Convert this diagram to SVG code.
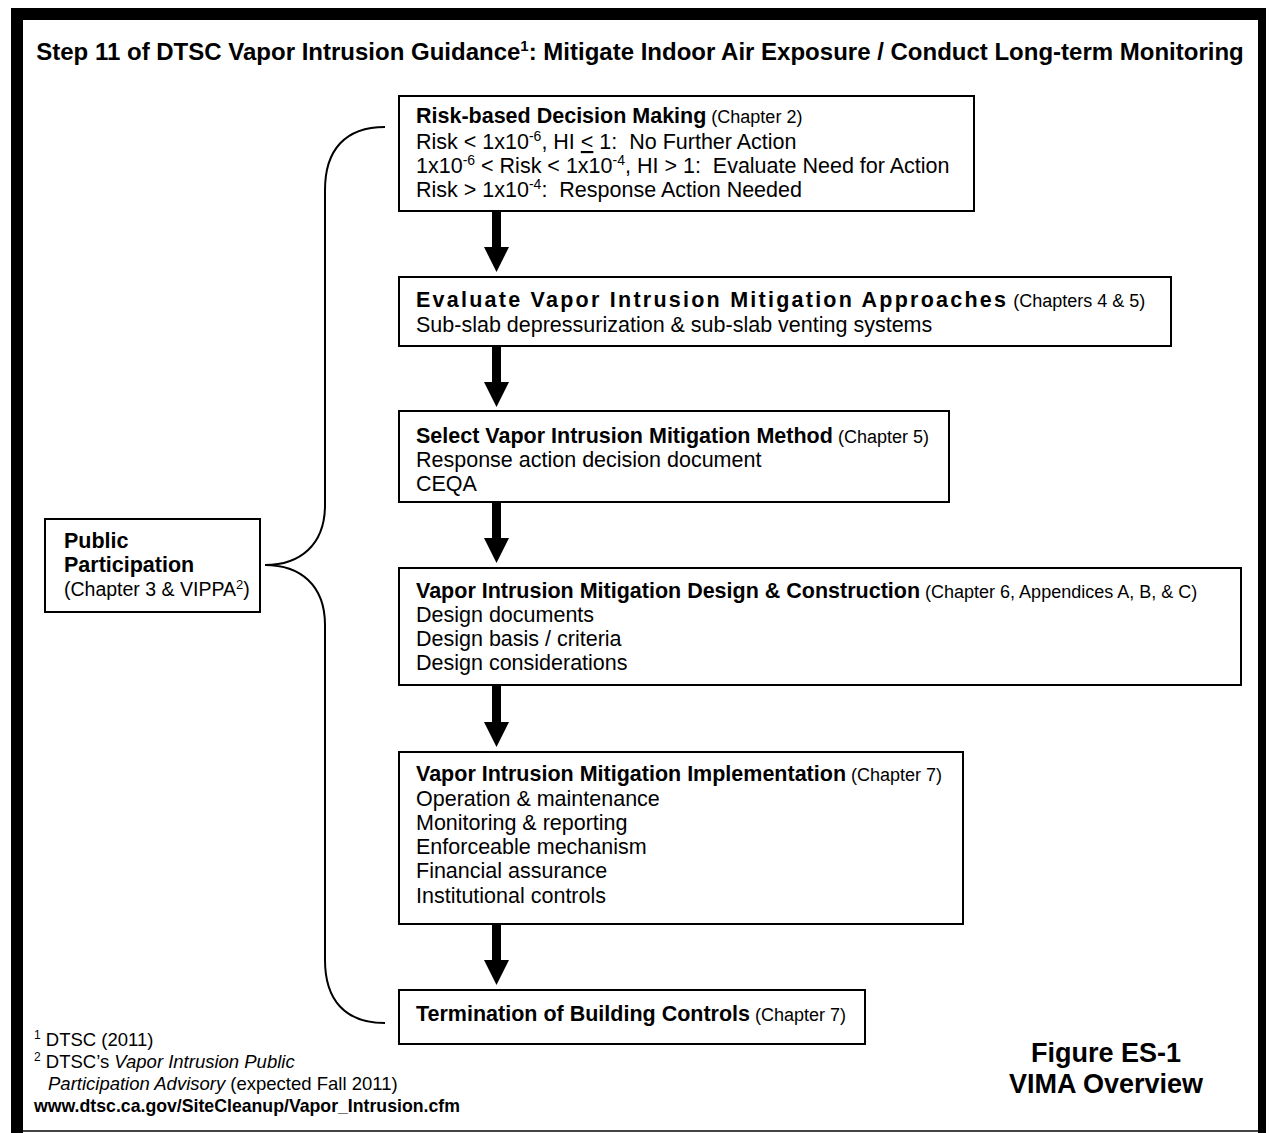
<svg xmlns="http://www.w3.org/2000/svg" width="1269" height="1133" viewBox="0 0 1269 1133">
<style>
.t{font-family:"Liberation Sans",Arial,sans-serif;fill:#000}
.b{font-weight:bold}
.box{fill:#fff;stroke:#000;stroke-width:2}
.h{font-size:21.5px;font-weight:bold}
.c{font-size:18px;font-weight:normal}
.n{font-size:21.5px}
.f{font-size:18.5px}
.arr{fill:#000}
</style>
<rect x="0" y="0" width="1269" height="1133" fill="#fff"/>
<g id="frame">
<rect x="11" y="8" width="12" height="1125" fill="#000"/>
<rect x="11" y="8" width="1255" height="12" fill="#000"/>
<rect x="1258" y="8" width="8" height="1125" fill="#000"/>
<rect x="23" y="1130" width="1235" height="2" fill="#444"/>
</g>
<text id="title" class="t b" x="640" y="60" font-size="24" text-anchor="middle">Step 11 of DTSC Vapor Intrusion Guidance<tspan font-size="15" dy="-9">1</tspan><tspan dy="9">: Mitigate Indoor Air Exposure / Conduct Long-term Monitoring</tspan></text>
<g id="connectors">
<path d="M385,127 C345,127 325,150 325,190 L325,505 C325,545 300,565 265,565 C300,565 325,585 325,625 L325,960 C325,1000 345,1023 385,1023" fill="none" stroke="#000" stroke-width="2"/>
<g class="arr">
<rect x="492" y="211" width="9" height="37"/><polygon points="484,247 509,247 496.5,272"/>
<rect x="492" y="346" width="9" height="37"/><polygon points="484,382 509,382 496.5,407"/>
<rect x="492" y="502" width="9" height="37"/><polygon points="484,538 509,538 496.5,563"/>
<rect x="492" y="685" width="9" height="38"/><polygon points="484,722 509,722 496.5,747"/>
<rect x="492" y="924" width="9" height="37"/><polygon points="484,960 509,960 496.5,985"/>
</g>
</g>
<g id="node-risk">
<rect class="box" x="399" y="96" width="575" height="115"/>
<text class="t" x="416" y="123"><tspan class="h">Risk-based Decision Making</tspan><tspan class="c"> (Chapter 2)</tspan></text>
<text class="t n" x="416" y="149">Risk &lt; 1x10<tspan font-size="14" dy="-8">-6</tspan><tspan dy="8">, HI </tspan><tspan text-decoration="underline">&lt;</tspan> 1:&#160; No Further Action</text>
<text class="t n" x="416" y="173">1x10<tspan font-size="14" dy="-8">-6</tspan><tspan dy="8"> &lt; Risk &lt; 1x10</tspan><tspan font-size="14" dy="-8">-4</tspan><tspan dy="8">, HI &gt; 1:&#160; Evaluate Need for Action</tspan></text>
<text class="t n" x="416" y="197">Risk &gt; 1x10<tspan font-size="14" dy="-8">-4</tspan><tspan dy="8">:&#160; Response Action Needed</tspan></text>
</g>
<g id="node-evaluate">
<rect class="box" x="399" y="277" width="772" height="69"/>
<text class="t" x="416" y="307"><tspan class="h" textLength="590">Evaluate Vapor Intrusion Mitigation Approaches</tspan><tspan class="c"> (Chapters 4 &amp; 5)</tspan></text>
<text class="t n" x="416" y="332">Sub-slab depressurization &amp; sub-slab venting systems</text>
</g>
<g id="node-select">
<rect class="box" x="399" y="411" width="550" height="91"/>
<text class="t" x="416" y="443"><tspan class="h">Select Vapor Intrusion Mitigation Method</tspan><tspan class="c"> (Chapter 5)</tspan></text>
<text class="t n" x="416" y="467">Response action decision document</text>
<text class="t n" x="416" y="491">CEQA</text>
</g>
<g id="node-design">
<rect class="box" x="399" y="568" width="842" height="117"/>
<text class="t" x="416" y="598"><tspan class="h">Vapor Intrusion Mitigation Design &amp; Construction</tspan><tspan class="c"> (Chapter 6, Appendices A, B, &amp; C)</tspan></text>
<text class="t n" x="416" y="622">Design documents</text>
<text class="t n" x="416" y="646">Design basis / criteria</text>
<text class="t n" x="416" y="670">Design considerations</text>
</g>
<g id="node-implementation">
<rect class="box" x="399" y="752" width="564" height="172"/>
<text class="t" x="416" y="781"><tspan class="h">Vapor Intrusion Mitigation Implementation</tspan><tspan class="c"> (Chapter 7)</tspan></text>
<text class="t n" x="416" y="806">Operation &amp; maintenance</text>
<text class="t n" x="416" y="830">Monitoring &amp; reporting</text>
<text class="t n" x="416" y="854">Enforceable mechanism</text>
<text class="t n" x="416" y="878">Financial assurance</text>
<text class="t n" x="416" y="903">Institutional controls</text>
</g>
<g id="node-termination">
<rect class="box" x="399" y="990" width="466" height="54"/>
<text class="t" x="416" y="1021"><tspan class="h">Termination of Building Controls</tspan><tspan class="c"> (Chapter 7)</tspan></text>
</g>
<g id="node-public">
<rect class="box" x="45" y="519" width="215" height="93"/>
<text class="t h" x="64" y="548">Public</text>
<text class="t h" x="64" y="572">Participation</text>
<text class="t" x="64" y="596" font-size="19.5">(Chapter 3 &amp; VIPPA<tspan font-size="13" dy="-7">2</tspan><tspan dy="7">)</tspan></text>
</g>
<g id="footnotes">
<text class="t f" x="34" y="1046"><tspan font-size="12" dy="-7">1</tspan><tspan dy="7"> DTSC (2011)</tspan></text>
<text class="t f" x="34" y="1068"><tspan font-size="12" dy="-7">2</tspan><tspan dy="7"> DTSC’s </tspan><tspan font-style="italic">Vapor Intrusion Public</tspan></text>
<text class="t f" x="48" y="1090"><tspan font-style="italic">Participation Advisory</tspan> (expected Fall 2011)</text>
<text class="t b" x="34" y="1112" font-size="17.7">www.dtsc.ca.gov/SiteCleanup/Vapor_Intrusion.cfm</text>
</g>
<g id="figure-label">
<text class="t b" x="1106" y="1062" font-size="27" text-anchor="middle">Figure ES-1</text>
<text class="t b" x="1106" y="1093" font-size="27" text-anchor="middle">VIMA Overview</text>
</g>
</svg>
